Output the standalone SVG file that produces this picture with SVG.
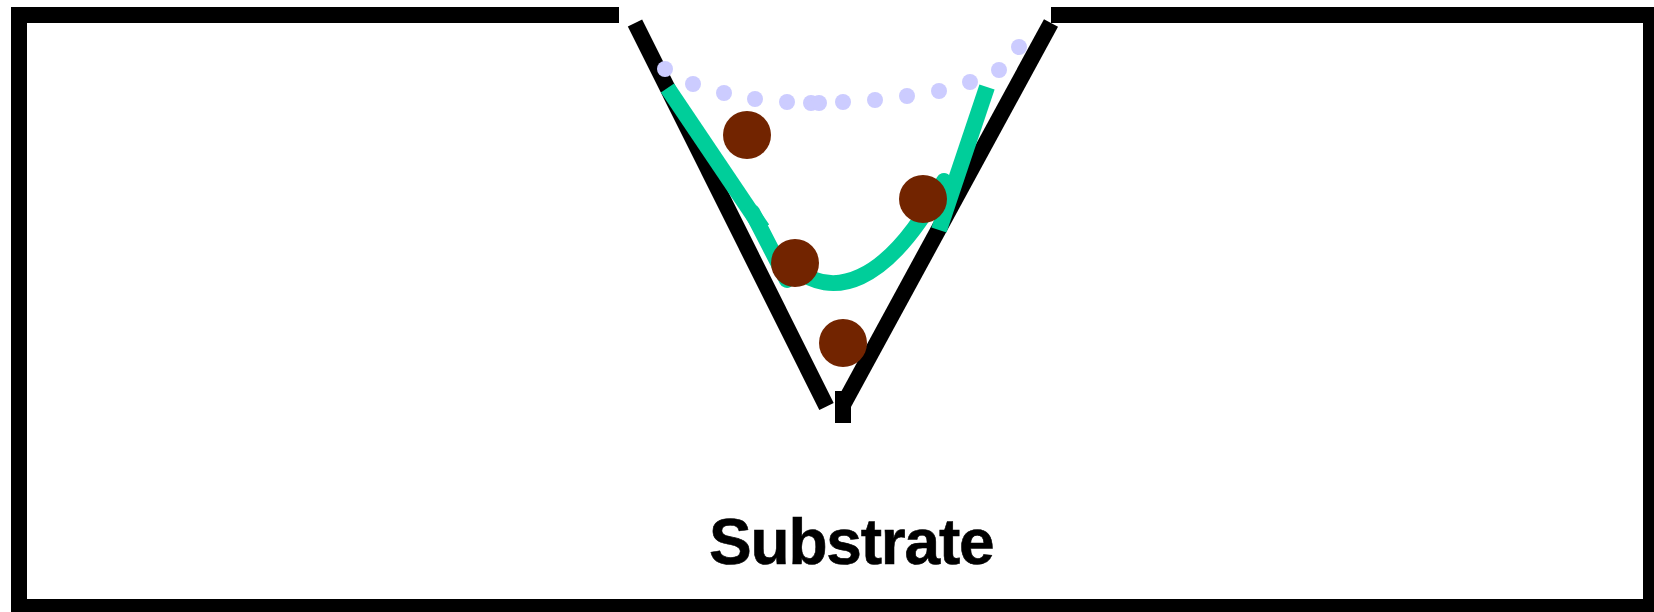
<svg xmlns="http://www.w3.org/2000/svg" width="1654" height="612" viewBox="0 0 1654 612">
<style>
.wall{fill:none;stroke:#000;stroke-width:16}
.film{fill:none;stroke:#00ce9a;stroke-width:16}
.dot{fill:#ccf}
.ball{fill:#722400}
.label{font-family:"Liberation Sans",Arial,sans-serif;font-weight:700;font-size:64px;letter-spacing:-1.2px;fill:#000;stroke:#000;stroke-width:.6px}
</style>
<rect width="1654" height="612" fill="#fff"/>
<g id="substrate">
<path class="wall" d="M619 15H19V607H1651V15H1051"/>
<path class="wall" d="M635 23L826.500 406.500"/>
<path class="wall" d="M1051 23L843 405"/>
<path class="wall" d="M843 391V423"/>
</g>
<g id="film">
<path class="film" d="M667.500 88L762.500 229"/>
<path class="film" d="M987 87L939 230"/>
<path class="film" stroke-linecap="round" d="M752 212L787 280"/>
<path class="film" stroke-linecap="round" stroke-width="17" d="M795 268C830 298 885 290 944 181"/>
</g>
<g id="dots">
<circle class="dot" cx="665" cy="69" r="8"/><circle class="dot" cx="693" cy="84" r="8"/><circle class="dot" cx="724" cy="93" r="8"/><circle class="dot" cx="755" cy="99" r="8"/><circle class="dot" cx="787" cy="102" r="8"/><circle class="dot" cx="811" cy="103" r="8"/><circle class="dot" cx="819" cy="103" r="8"/><circle class="dot" cx="843" cy="102" r="8"/><circle class="dot" cx="875" cy="100" r="8"/><circle class="dot" cx="907" cy="96" r="8"/><circle class="dot" cx="939" cy="91" r="8"/><circle class="dot" cx="970" cy="82" r="8"/><circle class="dot" cx="999" cy="70" r="8"/><circle class="dot" cx="1019" cy="47" r="8"/>
</g>
<g id="particles">
<circle class="ball" cx="747" cy="135" r="24"/><circle class="ball" cx="923" cy="199" r="24"/><circle class="ball" cx="795" cy="263" r="24"/><circle class="ball" cx="843" cy="343" r="24"/>
</g>
<g id="label"><text class="label" x="709" y="564">Substrate</text></g>
</svg>
